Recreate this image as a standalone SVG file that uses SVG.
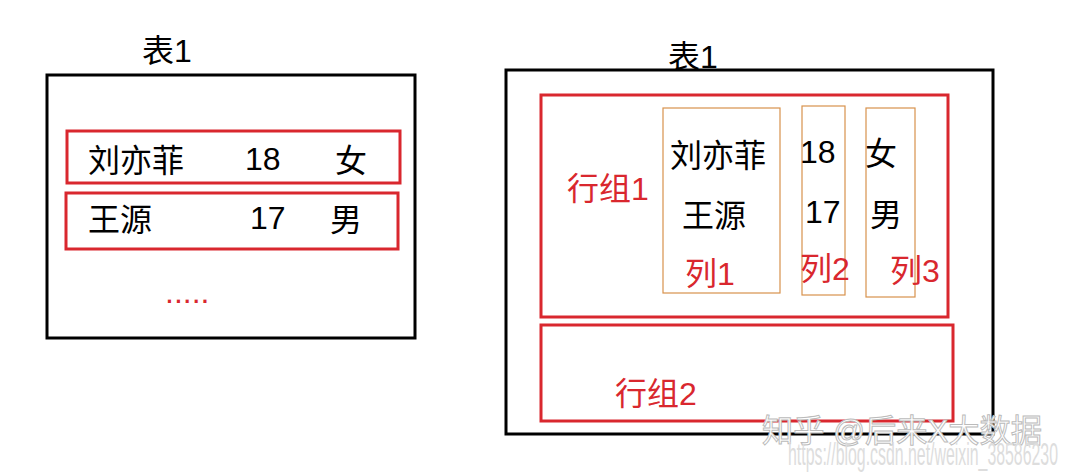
<svg xmlns="http://www.w3.org/2000/svg" width="1070" height="476" viewBox="0 0 1070 476">
<style>
text{font-family:"Liberation Sans","Noto Sans CJK SC",sans-serif;font-size:32px;fill:#000}
.r{fill:#d9272e}
.blk{fill:none;stroke:#000;stroke-width:3}
.red{fill:none;stroke:#d9272e;stroke-width:3}
.or{fill:none;stroke:#d8924c;stroke-width:1.2}
</style>
<rect width="1070" height="476" fill="#fff"/>
<g id="left-table">
<text x="142" y="62">表1</text>
<rect class="blk" x="47" y="75" width="368" height="263"/>
</g>
<g id="left-row1">
<rect class="red" x="67" y="131" width="333" height="52"/>
<text x="88" y="172">刘亦菲</text><text x="245" y="170">18</text><text x="335" y="172">女</text>
</g>
<g id="left-row2">
<rect class="red" x="66" y="193" width="332" height="56"/>
<text x="88" y="231">王源</text><text x="250" y="229">17</text><text x="330" y="231">男</text>
</g>
<text class="r" x="165" y="303" font-size="24">.....</text>
<g id="right-table">
<text x="668" y="68">表1</text>
<rect class="blk" x="506" y="70" width="487" height="364"/>
</g>
<g id="rowgroup1">
<rect class="red" x="541" y="95" width="407" height="222"/>
<text class="r" x="567" y="200">行组1</text>
</g>
<g id="col1">
<rect class="or" x="663" y="108" width="117" height="185"/>
<text x="670" y="167">刘亦菲</text><text x="682" y="227">王源</text>
<text class="r" x="685" y="285">列1</text>
</g>
<g id="col2">
<rect class="or" x="802" y="106" width="43" height="189"/>
<text x="800" y="163">18</text><text x="805" y="223">17</text>
<text class="r" x="800" y="280">列2</text>
</g>
<g id="col3">
<rect class="or" x="866" y="108" width="49" height="189"/>
<text x="865" y="165">女</text><text x="870" y="226">男</text>
<text class="r" x="890" y="282">列3</text>
</g>
<g id="rowgroup2">
<rect class="red" x="541" y="325" width="412" height="96"/>
<text class="r" x="615" y="405">行组2</text>
</g>
<g id="watermark">
<text x="762" y="442" font-size="28" textLength="280" lengthAdjust="spacingAndGlyphs" style="fill:#fff;stroke:#bbb;stroke-width:1">知乎 @后来X大数据</text>
<text x="788" y="465" font-size="13" textLength="270" lengthAdjust="spacingAndGlyphs" style="fill:#ddd">https://blog.csdn.net/weixin_38586230</text>
</g>
<g id="connectors"/>
</svg>
